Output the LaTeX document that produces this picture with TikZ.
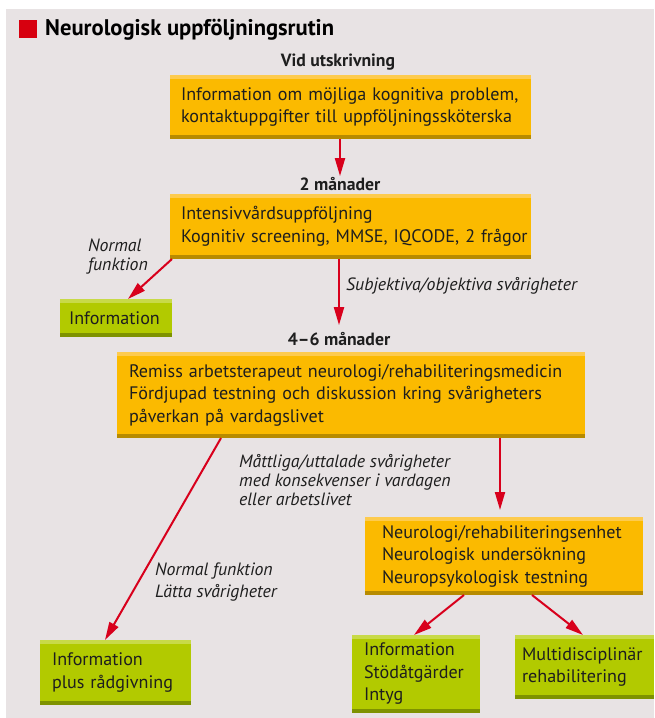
\documentclass[tikz,border=0pt]{standalone}
\usepackage{fontspec}
\setmainfont{PT Sans}
\usetikzlibrary{arrows.meta,calc}
\definecolor{bgc}{HTML}{E8E3E4}
\definecolor{orm}{HTML}{FBBA00}
\definecolor{orl}{HTML}{FDCB4E}
\definecolor{ord}{HTML}{B78B00}
\definecolor{grm}{HTML}{B2CA00}
\definecolor{grl}{HTML}{C8DA48}
\definecolor{grd}{HTML}{7E9200}
\definecolor{redc}{HTML}{D8001C}
\definecolor{sqred}{HTML}{D7000F}
\definecolor{txt}{HTML}{1E1E1E}
\newcommand\boxfont{\fontsize{18.1}{22.5}\selectfont}
\newcommand\lblfont{\fontsize{17.7}{20}\selectfont\bfseries}
\newcommand\itfont{\fontsize{17.8}{19}\selectfont\itshape}
\begin{document}
\begin{tikzpicture}[x=1pt,y=-1pt,
  basebox/.style={anchor=north west, inner ysep=0pt, outer sep=0pt, align=left, font=\boxfont, text=txt},
  orbox/.style={basebox, fill=orm,
    path picture={
      \fill[orl] (path picture bounding box.north west) rectangle ([yshift=-4pt]path picture bounding box.north east);
      \fill[ord] ([yshift=4pt]path picture bounding box.south west) rectangle (path picture bounding box.south east);}},
  grbox/.style={basebox, fill=grm,
    path picture={
      \fill[grl] (path picture bounding box.north west) rectangle ([yshift=-4pt]path picture bounding box.north east);
      \fill[grd] ([yshift=4pt]path picture bounding box.south west) rectangle (path picture bounding box.south east);}},
  stage/.style={font=\lblfont, text=txt, inner sep=1pt},
  cond/.style={font=\itfont, text=txt, anchor=west, align=left, inner sep=0pt},
  arr/.style={draw=redc, line width=2pt, -{Triangle[length=18pt,width=10pt]}}
]
\useasboundingbox (0,0) rectangle (654,718);
\fill[white] (0,0) rectangle (654,718);
\fill[bgc] (6,9) rectangle (654,718);

% title
\fill[sqred] (19,20) rectangle (37,38);
\node[anchor=west, font=\fontsize{22.6}{26}\selectfont\bfseries, text=black, inner sep=0pt] (title) at (45,30) {Neurologisk uppföljningsrutin};

% stages
\node[stage] (m0) at (338,62) {Vid utskrivning};
\node[orbox, minimum width=361pt, minimum height=64pt, text width=339pt, inner xsep=11pt] (b1) at (170,75)
  {\mbox{Information om möjliga kognitiva problem,}\\\mbox{kontaktuppgifter till uppföljningssköterska}};

\node[stage] (m2) at (340,184) {2 månader};
\node[orbox, minimum width=361pt, minimum height=65pt, text width=339pt, inner xsep=11pt] (b2) at (170,194)
  {\mbox{Intensivvårdsuppföljning}\\\mbox{Kognitiv screening, MMSE, IQCODE, 2 frågor}};

\node[grbox, minimum width=112pt, minimum height=38pt, text width=94pt, inner xsep=9pt] (info) at (60,299)
  {Information};

\node[stage] (m46) at (339,339) {4–6 månader};
\node[orbox, minimum width=468pt, minimum height=86pt, text width=444pt, inner xsep=12pt] (b3) at (117,352)
  {\mbox{Remiss arbetsterapeut neurologi/rehabiliteringsmedicin}\\\mbox{Fördjupad testning och diskussion kring svårigheters}\\\mbox{påverkan på vardagslivet}};

\node[orbox, minimum width=278pt, minimum height=78pt, text width=244pt, inner xsep=17pt] (b4) at (365,517)
  {\mbox{Neurologi/rehabiliteringsenhet}\\\mbox{Neurologisk undersökning}\\\mbox{Neuropsykologisk testning}};

\node[grbox, minimum width=151pt, minimum height=65pt, text width=127pt, inner xsep=12pt] (pr) at (40,640)
  {Information\\plus rådgivning};
\node[grbox, minimum width=128pt, minimum height=78pt, text width=104pt, inner xsep=12pt] (isi) at (352,635)
  {Information\\Stödåtgärder\\Intyg};
\node[grbox, minimum width=133pt, minimum height=64pt, text width=125pt, inner xsep=7pt] (md) at (515,635)
  {Multidisciplinär\\rehabilitering};

% condition labels
\node[cond] (c1) at (88,256.5) {Normal\\funktion};
\node[cond] (c2) at (346,286) {Subjektiva/objektiva svårigheter};
\node[cond] (c3) at (239,480.5) {Måttliga/uttalade svårigheter\\med konsekvenser i vardagen\\eller arbetslivet};
\node[cond, font=\fontsize{17.8}{22}\selectfont\itshape] (c4) at (155,582) {Normal funktion\\Lätta svårigheter};

% connectors
\draw[arr] (b1.south -| m2.north) -- (m2.north);
\draw[arr, shorten >=6pt] (b2.south -| m46.north) -- (m46.north);
\draw[arr] ($(b2.south west)+(2,0)$) -- ($(info.north west)+(68,0)$);
\draw[arr] ($(b3.south west)+(104,0)$) -- ($(pr.north west)+(65,0)$);
\draw[arr, shorten >=7pt] ($(b3.south west)+(383,0)$) -- ($(b4.north west)+(135,0)$);
\draw[arr] ($(b4.south west)+(99,0)$) -- ($(isi.north west)+(62,0)$);
\draw[arr] ($(b4.south west)+(167,0)$) -- ($(md.north west)+(68,0)$);
\end{tikzpicture}
\end{document}
